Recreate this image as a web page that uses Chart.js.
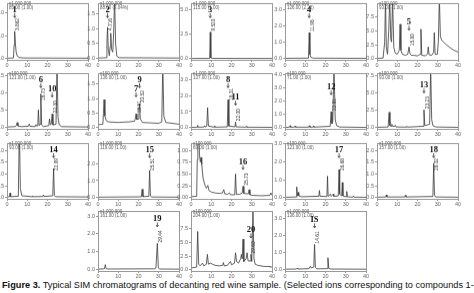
<!DOCTYPE html>
<html><head><meta charset="utf-8">
<script src="https://cdn.jsdelivr.net/npm/chart.js@4.4.1/dist/chart.umd.min.js"></script>
<style>
html,body{margin:0;padding:0;background:#fff;width:474px;height:293px;overflow:hidden;position:relative;}
canvas{position:absolute;}
#cap{position:absolute;left:2px;top:280px;font:9.2px "Liberation Sans",Arial,sans-serif;color:#111;white-space:nowrap;}
</style></head><body>
<div id="cap"><b>Figure 3.</b> Typical SIM chromatograms of decanting red wine sample. (Selected ions corresponding to compounds 1-</div>
<script>
// ---- data ----
const xTicks = [0,10,20,30,40];
const c1 = [[0,0.02],[3.2,0.03],[3.5,0.6],[3.8,1.2],[4.1,0.7],[4.5,0.3],[5,0.12],[6,0.05],[8,0.03],[40,0.02]];
const c2 = [[0,0.02],[4,0.03],[4.4,0.5],[4.7,1.04],[5.1,0.3],[5.6,0.1],[6,0.4],[6.3,0.84],[6.7,0.3],[7.3,0.22],[7.7,0.8],[8.2,2.0],[8.7,0.5],[9.3,0.08],[10.5,0.03],[40,0.02]];
const c3 = [[0,0.02],[9.2,0.03],[9.5,2.7],[9.8,0.08],[10.5,0.03],[40,0.02]];
const c4 = [[0,0.02],[11.6,0.03],[11.95,1.6],[12.3,0.25],[12.8,0.08],[14,0.03],[40,0.02]];
const c5 = [[0,0.05],[3,0.1],[3.8,3],[4.2,11],[4.6,2],[5.2,0.8],[5.8,5],[6.3,11],[6.8,3.5],[7.2,3.0],[7.7,11],[8.3,2],[9,1.0],[10,0.8],[11,1.5],[11.4,6.2],[11.8,1.5],[12.5,0.8],[14,0.6],[15.2,0.8],[15.8,2.1],[16.3,0.9],[17,0.6],[18,0.6],[20,0.5],[21.3,0.8],[21.7,5.3],[22.1,0.6],[24,0.5],[25,0.9],[25.3,2.1],[25.7,0.7],[27,0.6],[28,1.2],[28.3,4.7],[28.7,0.8],[29.8,0.8],[30.3,3],[30.8,11],[31.3,4],[32,3.3],[34,2.6],[36,2.0],[38,1.5],[40,1.2]];
const c6 = [[0,0.1],[4,0.15],[4.6,0.3],[5,0.75],[5.4,0.25],[7,0.15],[10.5,0.2],[11,0.55],[11.4,0.2],[13.8,0.15],[14.3,0.45],[14.7,0.2],[15.2,0.3],[15.5,2.6],[15.9,0.3],[16.3,0.5],[16.7,4.9],[17.1,0.4],[18,0.15],[20.6,0.3],[21,1.3],[21.4,0.4],[21.8,0.5],[22.3,2.0],[22.7,0.4],[24.2,0.5],[24.7,9],[25.2,1.5],[25.8,0.4],[27,0.15],[40,0.1]];
const c7 = [[0,0.1],[2.4,0.12],[2.7,0.5],[3.0,0.97],[3.4,0.4],[4,0.25],[5,0.2],[10,0.18],[15,0.2],[18,0.22],[18.4,0.3],[18.8,0.48],[19.2,0.28],[19.8,0.3],[20.2,0.6],[20.5,0.83],[20.9,0.3],[22,0.18],[30,0.15],[31.5,0.2],[32,2.2],[32.5,0.4],[33.5,0.18],[40,0.12]];
const c8 = [[0,0.02],[3,0.03],[3.3,0.15],[3.6,0.03],[6.4,0.04],[6.7,0.12],[7,0.04],[7.8,0.1],[8.2,1.25],[8.6,0.1],[11.4,0.03],[11.7,0.12],[12,0.03],[17.9,0.05],[18.3,1.75],[18.7,0.1],[21.7,0.05],[22,0.35],[22.3,0.05],[27,0.03],[27.3,0.08],[27.6,0.03],[40,0.02]];
const c9 = [[0,0.02],[2.2,0.04],[2.5,0.15],[2.8,0.04],[4.7,0.04],[5,0.12],[5.3,0.04],[11.7,0.04],[12,0.15],[12.3,0.04],[13.7,0.04],[14,0.12],[14.3,0.04],[22.3,0.1],[22.8,1.2],[23.2,0.3],[23.6,0.5],[24.2,4.5],[24.8,0.6],[25.5,0.15],[27,0.05],[40,0.02]];
const c10 = [[0,0.05],[5.5,0.1],[6,2.25],[6.4,0.3],[7,0.2],[7.3,0.5],[7.7,0.2],[8.7,0.2],[9,0.35],[9.4,0.1],[14.5,0.08],[14.8,0.2],[15.1,0.08],[22.8,0.2],[23.2,2.6],[23.6,0.3],[26,0.5],[26.5,9],[27,1.2],[27.6,0.3],[29,0.1],[40,0.05]];
const c11 = [[0,0.03],[1.2,0.04],[1.5,0.2],[1.8,0.04],[5.6,0.06],[6.1,3],[6.6,0.4],[7.3,0.08],[12.4,0.04],[12.7,0.08],[13,0.04],[17.7,0.05],[18,0.12],[18.3,0.05],[22.6,0.08],[23,1.23],[23.4,0.1],[24,0.04],[40,0.03]];
const c12 = [[0,0.03],[21.4,0.05],[21.8,0.5],[22.2,0.06],[25.1,0.08],[25.5,1.6],[25.9,0.1],[26.6,0.04],[40,0.03]];
const c13 = [[0,0.02],[2.8,0.03],[3.1,0.8],[3.4,1.4],[3.8,1.4],[4.2,0.9],[4.6,0.75],[5,0.85],[5.3,0.7],[6,0.4],[7,0.25],[7.6,0.2],[8.3,0.26],[8.9,0.15],[10,0.12],[12,0.1],[14,0.09],[15.5,0.1],[16.2,0.17],[16.7,0.08],[18,0.07],[19,0.1],[19.5,0.06],[21.6,0.06],[22,0.5],[22.4,0.07],[24,0.07],[25.3,0.1],[25.7,0.24],[26.1,0.09],[28.3,0.08],[28.7,0.17],[29.1,0.06],[30,0.05],[35,0.04],[39,0.05],[39.5,0.1],[40,0.05]];
const c14 = [[0,0.02],[5.5,0.04],[5.8,0.6],[6.1,0.1],[6.5,0.3],[6.8,0.1],[8,0.05],[16.7,0.08],[17,0.4],[17.3,0.08],[20.7,0.06],[21,1.2],[21.3,0.08],[22.5,0.2],[22.8,0.08],[23.8,0.2],[24.1,0.08],[26.3,0.1],[26.7,1.57],[27,0.2],[28,0.1],[28.3,0.85],[28.6,0.1],[30.2,0.05],[30.5,0.35],[30.8,0.05],[33.5,0.03],[33.8,0.1],[34.1,0.03],[40,0.02]];
const c15 = [[0,0.02],[4.3,0.03],[4.6,0.12],[4.9,0.03],[13.7,0.03],[14,0.1],[14.3,0.03],[27.6,0.05],[28,1.45],[28.4,0.1],[29,0.03],[40,0.02]];
const c16 = [[0,0.03],[3.2,0.05],[3.6,0.28],[4,0.06],[5,0.04],[28,0.05],[28.6,0.1],[29.3,1.47],[29.8,0.1],[30.5,0.04],[40,0.03]];
const c17 = [[0,0.3],[2.8,0.5],[3.3,7.0],[3.8,1.0],[4.5,0.7],[5.7,1.2],[6.3,0.7],[7.6,1.0],[8.1,2.8],[8.6,1.0],[9.5,1.2],[10.7,1.0],[12,0.8],[14,0.7],[15.6,0.8],[16,1.3],[16.4,0.7],[18,0.8],[19.5,1.5],[20,0.9],[21.5,1.2],[22,3.1],[22.5,1.5],[23.5,1.2],[24.5,2.0],[24.9,2.8],[25.3,2.0],[25.7,5.6],[26.1,1.5],[27.2,2.0],[27.7,3.1],[28.2,1.6],[29.2,1.6],[29.6,2.8],[30,1.5],[30.6,11],[31.1,2],[31.7,1.0],[33,0.8],[36,0.6],[38.6,0.6],[39,0.5],[40,0.5]];
const c18 = [[0,0.03],[5.7,0.04],[6,0.08],[6.3,0.04],[11.8,0.06],[12.5,0.2],[13,0.1],[14.2,0.15],[14.6,1.48],[15,0.15],[15.6,0.05],[20.8,0.06],[21.2,0.7],[21.6,0.08],[22.5,0.04],[40,0.03]];

// y tick labels per panel
const yt1=[0,1,2], yt2=[0,0.5,1,1.5], yt3=[0,2.5,5], yt4=[0,1,2,3], yt5=[0,2.5,5,7.5];
const yt6=[0,2.5,5,7.5], yt7=[0,0.5,1,1.5], yt8=[0,1,2,3], yt9=[0,1,2,3,4], yt10=[0,2.5,5,7.5];
const yt11=[0,0.5,1,1.5,2], yt12=[0,1,2], yt13=[0,0.25,0.5,0.75,1], yt14=[0,1,2,3], yt15=[0,0.5,1,1.5,2];
const yt16=[0,1,2,3], yt17=[0,2.5,5,7.5], yt18=[0,1,2,3];

// peak labels: [compound, retention time, time text]
const a1=[['1',3.8,'3.862']], a2=[['2',4.7,'4.716']], a3=[['3',9.5,'9.520']], a4=[['4',11.95,'11.98']], a5=[['5',15.8,'15.80']];
const a6=[['6',16.7,'16.73'],['10',22.3,'22.30']], a7=[['7',18.8,'18.81'],['9',20.5,'20.52']], a8=[['8',18.3,'18.31'],['11',22,'22.00']];
const a9=[['12',22.8,'22.81']], a10=[['13',23.2,'23.23']], a11=[['14',23,'22.99']], a12=[['15',25.5,'25.51']];
const a13=[['16',25.7,'25.73']], a14=[['17',26.7,'26.68']], a15=[['18',28,'28.02']], a16=[['19',29.3,'29.44']];
const a17=[['20',29.6,'29.60']], a18=[['IS',14.6,'14.61']];

// header texts
const hd = [
 ['x1,000,000','85.00 (1.00)'],['x1,000,000','88.00 (3.04%)'],['x1,000,000','115.00 (1.00)'],['x1,000,000','126.00 (2.22)'],['x100,000','93.00 (1.00)'],
 ['x100,000','121.00 (1.00)'],['x100,000','136.00 (1.00)'],['x1,000,000','137.00 (1.00)'],['x100,000','71.00 (1.00)'],['x100,000','93.00 (1.00)'],
 ['x1,000,000','93.00 (1.00)'],['x1,000,000','119.00 (1.00)'],['x100,000','69.00 (1.00)'],['x100,000','121.00 (1.00)'],['x1,000,000','157.00 (1.00)'],
 ['x1,000,000','161.00 (1.00)'],['x100,000','204.00 (1.00)'],['x1,000,000','136.00 (1.00)']
];

const series=[c1,c2,c3,c4,c5,c6,c7,c8,c9,c10,c11,c12,c13,c14,c15,c16,c17,c18];
const yts=[yt1,yt2,yt3,yt4,yt5,yt6,yt7,yt8,yt9,yt10,yt11,yt12,yt13,yt14,yt15,yt16,yt17,yt18];
const anns=[a1,a2,a3,a4,a5,a6,a7,a8,a9,a10,a11,a12,a13,a14,a15,a16,a17,a18];
const ymaxs=[2.44,1.84,5.65,3.4,10, 7.94,1.88,3.4,4.08,7.94, 2.3,3.2,1.15,3.05,2.3, 3.28,10.75,3.43];

// ---- layout ----
const colX=[7,98,191,285,377];
const rowTop=[3,73,143,211], rowBot=[59.5,128.5,198.5,271];
const grid=[[0,0],[0,1],[0,2],[0,3],[0,4],[1,0],[1,1],[1,2],[1,3],[1,4],[2,0],[2,1],[2,2],[2,3],[2,4],[3,1],[3,2],[3,3]];
const PW=81, LW=20, TP=5, RP=6, XH=10;

const framePlugin={id:'frame',afterDraw(ch){
  const a=ch.chartArea,c=ch.ctx;c.save();c.strokeStyle='#999';c.lineWidth=1;
  c.strokeRect(Math.round(a.left)+0.5,Math.round(a.top)+0.5,Math.round(a.right-a.left),Math.round(a.bottom-a.top));
  const h=ch.options.plugins.frame;
  c.fillStyle='#555';c.font='4.5px "Liberation Sans",Arial';c.textBaseline='alphabetic';
  c.fillText(h.h[0],a.left+2,a.top+1.5);c.fillText(h.h[1],a.left+2,a.top+5.5);
  // peak labels
  const xs=ch.scales.x, ys=ch.scales.y, data=h.data;
  h.ann.forEach(([lab,t,rt])=>{
    let pv=0;data.forEach(p=>{if(Math.abs(p[0]-t)<1e-6)pv=p[1];});
    const px=xs.getPixelForValue(t), py=ys.getPixelForValue(Math.min(pv,ys.max));
    const ny=Math.max(a.top+9,py-22);
    c.fillStyle='#111';c.font='bold 8.5px "Liberation Serif","DejaVu Serif",serif';c.textAlign='center';
    c.fillText(lab,px,ny);
    c.strokeStyle='#222';c.lineWidth=0.7;c.beginPath();c.moveTo(px,ny+1);c.lineTo(px,ny+5);c.stroke();
    c.beginPath();c.moveTo(px-1.3,ny+3.6);c.lineTo(px,ny+5.5);c.lineTo(px+1.3,ny+3.6);c.stroke();
    c.save();c.translate(px+3.2,Math.max(py-1,ny+18));c.rotate(-Math.PI/2);
    c.font='4.8px "Liberation Sans",Arial';c.fillStyle='#333';c.textAlign='left';c.textBaseline='middle';
    c.fillText(rt,0,0);c.restore();
  });
  c.restore();
}};

series.forEach((d,i)=>{
  const [r,col]=grid[i];
  const top=rowTop[r], bot=rowBot[r], ph=bot-top;
  const cv=document.createElement('canvas');
  const W=PW+LW+RP, H=ph+TP+XH;
  cv.width=W;cv.height=H;cv.style.left=(colX[col]-LW)+'px';cv.style.top=(top-TP)+'px';
  cv.style.width=W+'px';cv.style.height=H+'px';
  document.body.appendChild(cv);
  const yt=yts[i], ym=ymaxs[i];
  const dec = yt.some(v=>Math.abs(v*2-Math.round(v*2))>1e-9)?2:1;
  const gridOpt={display:true,drawOnChartArea:false,drawTicks:true,tickLength:2,color:'#999'};
  const tickFont={size:5.5,family:'"Liberation Sans",Arial'};
  new Chart(cv,{type:'line',
    data:{datasets:[{data:d.map(p=>({x:p[0],y:p[1]})),borderColor:'#3a3a3a',borderWidth:0.8,pointRadius:0,tension:0,fill:false}]},
    options:{responsive:false,animation:false,devicePixelRatio:1,
      layout:{padding:{top:TP,right:RP,left:0,bottom:0}},
      plugins:{legend:{display:false},tooltip:{enabled:false},frame:{h:hd[i],ann:anns[i],data:d}},
      scales:{
        x:{type:'linear',min:0,max:40,
          afterBuildTicks:s=>{s.ticks=xTicks.map(v=>({value:v}));},
          afterFit:s=>{s.height=XH;},
          ticks:{font:tickFont,color:'#666',padding:0.5,maxRotation:0,autoSkip:false,callback:v=>String(v)},
          grid:gridOpt,border:{color:'#999'}},
        y:{type:'linear',min:-ym*0.022,max:ym,
          afterBuildTicks:s=>{s.ticks=yt.map(v=>({value:v}));},
          afterFit:s=>{s.width=LW;},
          ticks:{font:tickFont,color:'#666',padding:1,autoSkip:false,callback:v=>Number(v).toFixed(dec)},
          grid:gridOpt,border:{color:'#999'}}
      }},
    plugins:[framePlugin]});
});
</script>
</body></html>
